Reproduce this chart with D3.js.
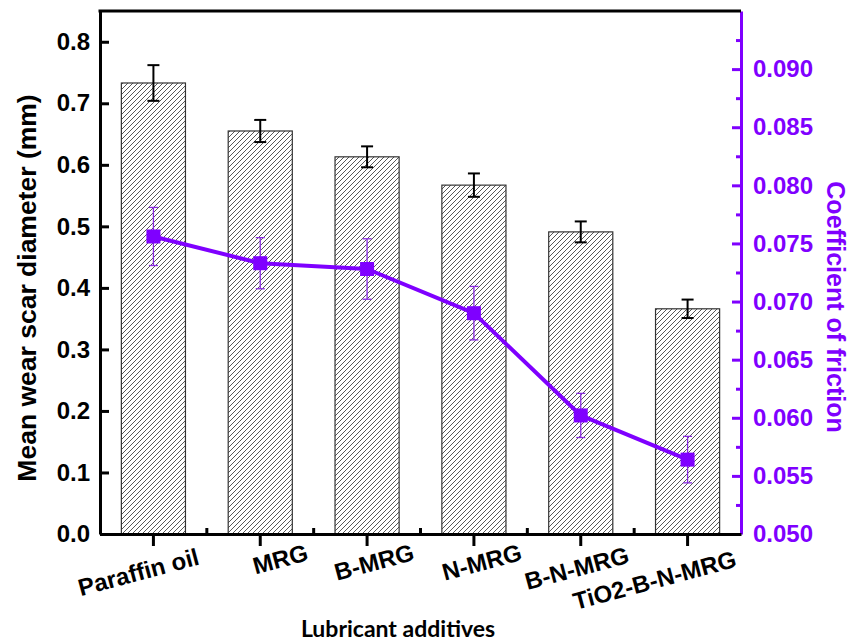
<!DOCTYPE html>
<html>
<head>
<meta charset="utf-8">
<script src="https://cdn.jsdelivr.net/npm/d3@7"></script>
<style>
  body { margin: 0; background: #fff; }
</style>
</head>
<body>
<svg id="chart"></svg>
<script>
// data
var categories = ["Paraffin oil", "MRG", "B-MRG", "N-MRG", "B-N-MRG", "TiO2-B-N-MRG"];
var wearScar = [0.733, 0.655, 0.613, 0.567, 0.491, 0.366];     // mm
var wearErr = [0.029, 0.018, 0.017, 0.019, 0.017, 0.015];
var friction = [0.0756, 0.0733, 0.0728, 0.0690, 0.0602, 0.0564];
var frictionErr = [0.0025, 0.0022, 0.0026, 0.0023, 0.0019, 0.0020];
var leftTicks = [0, 0.1, 0.2, 0.3, 0.4, 0.5, 0.6, 0.7, 0.8];
var rightTicks = [0.050, 0.055, 0.060, 0.065, 0.070, 0.075, 0.080, 0.085, 0.090];

// hand placed x labels in the original (offset from tick)
var labelNudge = [[-15, 38], [20, 25], [7, 28], [8, 28], [-4, 34], [-33, 46]];

var svgWidth = 853, svgHeight = 644;
var margin = { top: 11, right: 112, bottom: 110, left: 100 };
var width = svgWidth - margin.left - margin.right;
var height = svgHeight - margin.top - margin.bottom;
var purple = "#7f00ff";
var font = "'Liberation Sans', Arial, Helvetica, sans-serif";

var svg = d3.select("#chart")
    .attr("width", svgWidth)
    .attr("height", svgHeight);

// hatch for the bars
var pat = svg.append("defs").append("pattern")
    .attr("id", "hatch")
    .attr("patternUnits", "userSpaceOnUse")
    .attr("width", 5)
    .attr("height", 5);
pat.append("path")
    .attr("d", "M-1,1 l2,-2 M0,5 l5,-5 M4,6 l2,-2")
    .attr("stroke", "#444")
    .attr("stroke-width", 0.9);

var g = svg.append("g")
    .attr("transform", "translate(" + margin.left + "," + margin.top + ")");

var x = d3.scaleBand()
    .domain(categories)
    .range([0, width])
    .padding(0);

var y = d3.scaleLinear()
    .domain([0, 0.85])
    .range([height, 0]);

var y2 = d3.scaleLinear()
    .domain([0.05, 0.095])
    .range([height, 0]);

var barW = x.bandwidth() * 0.6;

// bars
g.selectAll("rect.bar")
    .data(wearScar)
    .enter()
    .append("rect")
    .attr("class", "bar")
    .attr("x", function(d, i) { return x(categories[i]) + (x.bandwidth() - barW) / 2; })
    .attr("y", function(d) { return y(d); })
    .attr("width", barW)
    .attr("height", function(d) { return height - y(d); })
    .attr("fill", "url(#hatch)")
    .attr("stroke", "#333")
    .attr("stroke-width", 1.2);

// black error bars on the bars
var eb = g.selectAll("g.werr")
    .data(wearScar)
    .enter()
    .append("g")
    .attr("class", "werr")
    .attr("stroke", "#000")
    .attr("stroke-width", 2);
eb.each(function(d, i) {
    var cx = x(categories[i]) + x.bandwidth() / 2;
    var sel = d3.select(this);
    sel.append("line")
        .attr("x1", cx).attr("x2", cx)
        .attr("y1", y(d + wearErr[i])).attr("y2", y(d - wearErr[i]));
    [d + wearErr[i], d - wearErr[i]].forEach(function(v) {
        sel.append("line")
            .attr("x1", cx - 6).attr("x2", cx + 6)
            .attr("y1", y(v)).attr("y2", y(v));
    });
});

// friction error bars
var fe = g.selectAll("g.ferr")
    .data(friction)
    .enter()
    .append("g")
    .attr("class", "ferr")
    .attr("stroke", "#8a2be2")
    .attr("stroke-width", 1.3);
fe.each(function(d, i) {
    var cx = x(categories[i]) + x.bandwidth() / 2;
    var sel = d3.select(this);
    sel.append("line")
        .attr("x1", cx).attr("x2", cx)
        .attr("y1", y2(d + frictionErr[i])).attr("y2", y2(d - frictionErr[i]));
    [d + frictionErr[i], d - frictionErr[i]].forEach(function(v) {
        sel.append("line")
            .attr("x1", cx - 4.5).attr("x2", cx + 4.5)
            .attr("y1", y2(v)).attr("y2", y2(v));
    });
});

// friction line + squares
var line = d3.line()
    .x(function(d, i) { return x(categories[i]) + x.bandwidth() / 2; })
    .y(function(d) { return y2(d); });

g.append("path")
    .datum(friction)
    .attr("fill", "none")
    .attr("stroke", purple)
    .attr("stroke-width", 4)
    .attr("stroke-linejoin", "round")
    .attr("d", line);

g.selectAll("rect.sq")
    .data(friction)
    .enter()
    .append("rect")
    .attr("class", "sq")
    .attr("x", function(d, i) { return x(categories[i]) + x.bandwidth() / 2 - 7; })
    .attr("y", function(d) { return y2(d) - 7; })
    .attr("width", 14)
    .attr("height", 14)
    .attr("fill", purple);

// ---- axes ----
// left
var yAxis = g.append("g")
    .call(d3.axisLeft(y).tickValues(leftTicks).tickFormat(d3.format(".1f"))
        .tickSizeInner(-9).tickSizeOuter(0).tickPadding(10))
    .attr("font-family", font);
yAxis.select(".domain").attr("stroke-width", 3);
yAxis.selectAll(".tick line").attr("stroke-width", 3);
yAxis.selectAll("text")
    .attr("font-size", 24)
    .attr("font-weight", "bold")
    .attr("fill", "#000");

// right (purple, with minor ticks)
var minorR = d3.range(0.0525, 0.095, 0.005);
var y2Minor = g.append("g")
    .attr("transform", "translate(" + width + ",0)")
    .call(d3.axisRight(y2).tickValues(minorR).tickFormat("").tickSize(-5));
y2Minor.select(".domain").remove();
y2Minor.selectAll(".tick line").attr("stroke", purple).attr("stroke-width", 3);

var y2Axis = g.append("g")
    .attr("transform", "translate(" + width + ",0)")
    .call(d3.axisRight(y2).tickValues(rightTicks).tickFormat(d3.format(".3f"))
        .tickSizeInner(-9).tickSizeOuter(0).tickPadding(12))
    .attr("font-family", font);
y2Axis.select(".domain").attr("stroke", purple).attr("stroke-width", 3);
y2Axis.selectAll(".tick line").attr("stroke", purple).attr("stroke-width", 3);
y2Axis.selectAll("text")
    .attr("font-size", 24)
    .attr("font-weight", "bold")
    .attr("fill", purple);

// top border
g.append("line")
    .attr("x1", -1.5).attr("x2", width)
    .attr("y1", 0).attr("y2", 0)
    .attr("stroke", "#000")
    .attr("stroke-width", 3);

// bottom: category ticks outward, boundary ticks inward
var boundaries = categories.slice(1).map(function(c) { return x(c); });
g.append("g")
    .attr("transform", "translate(0," + height + ")")
    .selectAll("line")
    .data(boundaries)
    .enter()
    .append("line")
    .attr("x1", function(d) { return d; }).attr("x2", function(d) { return d; })
    .attr("y1", 0).attr("y2", -6)
    .attr("stroke", "#000").attr("stroke-width", 3);

var xAxis = g.append("g")
    .attr("transform", "translate(0," + height + ")")
    .call(d3.axisBottom(x).tickSizeInner(12).tickSizeOuter(0).tickFormat(""));
xAxis.select(".domain").attr("stroke-width", 3);
xAxis.selectAll(".tick line").attr("stroke-width", 3);

// rotated category labels
g.selectAll("text.xlab")
    .data(categories)
    .enter()
    .append("text")
    .attr("class", "xlab")
    .attr("transform", function(d, i) {
        var cx = x(d) + x.bandwidth() / 2 + labelNudge[i][0];
        var cy = height + labelNudge[i][1];
        return "translate(" + cx + "," + cy + ") rotate(-15)";
    })
    .attr("text-anchor", "middle")
    .attr("dominant-baseline", "central")
    .attr("font-family", font)
    .attr("font-size", 24)
    .attr("font-weight", "bold")
    .text(function(d) { return d; });

// axis titles
svg.append("text")
    .attr("transform", "translate(27,288) rotate(-90)")
    .attr("text-anchor", "middle")
    .attr("dominant-baseline", "central")
    .attr("font-family", font)
    .attr("font-size", 26.5)
    .attr("font-weight", "bold")
    .text("Mean wear scar diameter (mm)");

svg.append("text")
    .attr("transform", "translate(836,307) rotate(90)")
    .attr("text-anchor", "middle")
    .attr("dominant-baseline", "central")
    .attr("font-family", font)
    .attr("font-size", 25)
    .attr("font-weight", "bold")
    .attr("fill", purple)
    .text("Coefficient of friction");

svg.append("text")
    .attr("x", 398)
    .attr("y", 637)
    .attr("text-anchor", "middle")
    .attr("font-family", "Lato, 'Open Sans', sans-serif")
    .attr("font-size", 23)
    .attr("font-weight", "bold")
    .text("Lubricant additives");
</script>
</body>
</html>
